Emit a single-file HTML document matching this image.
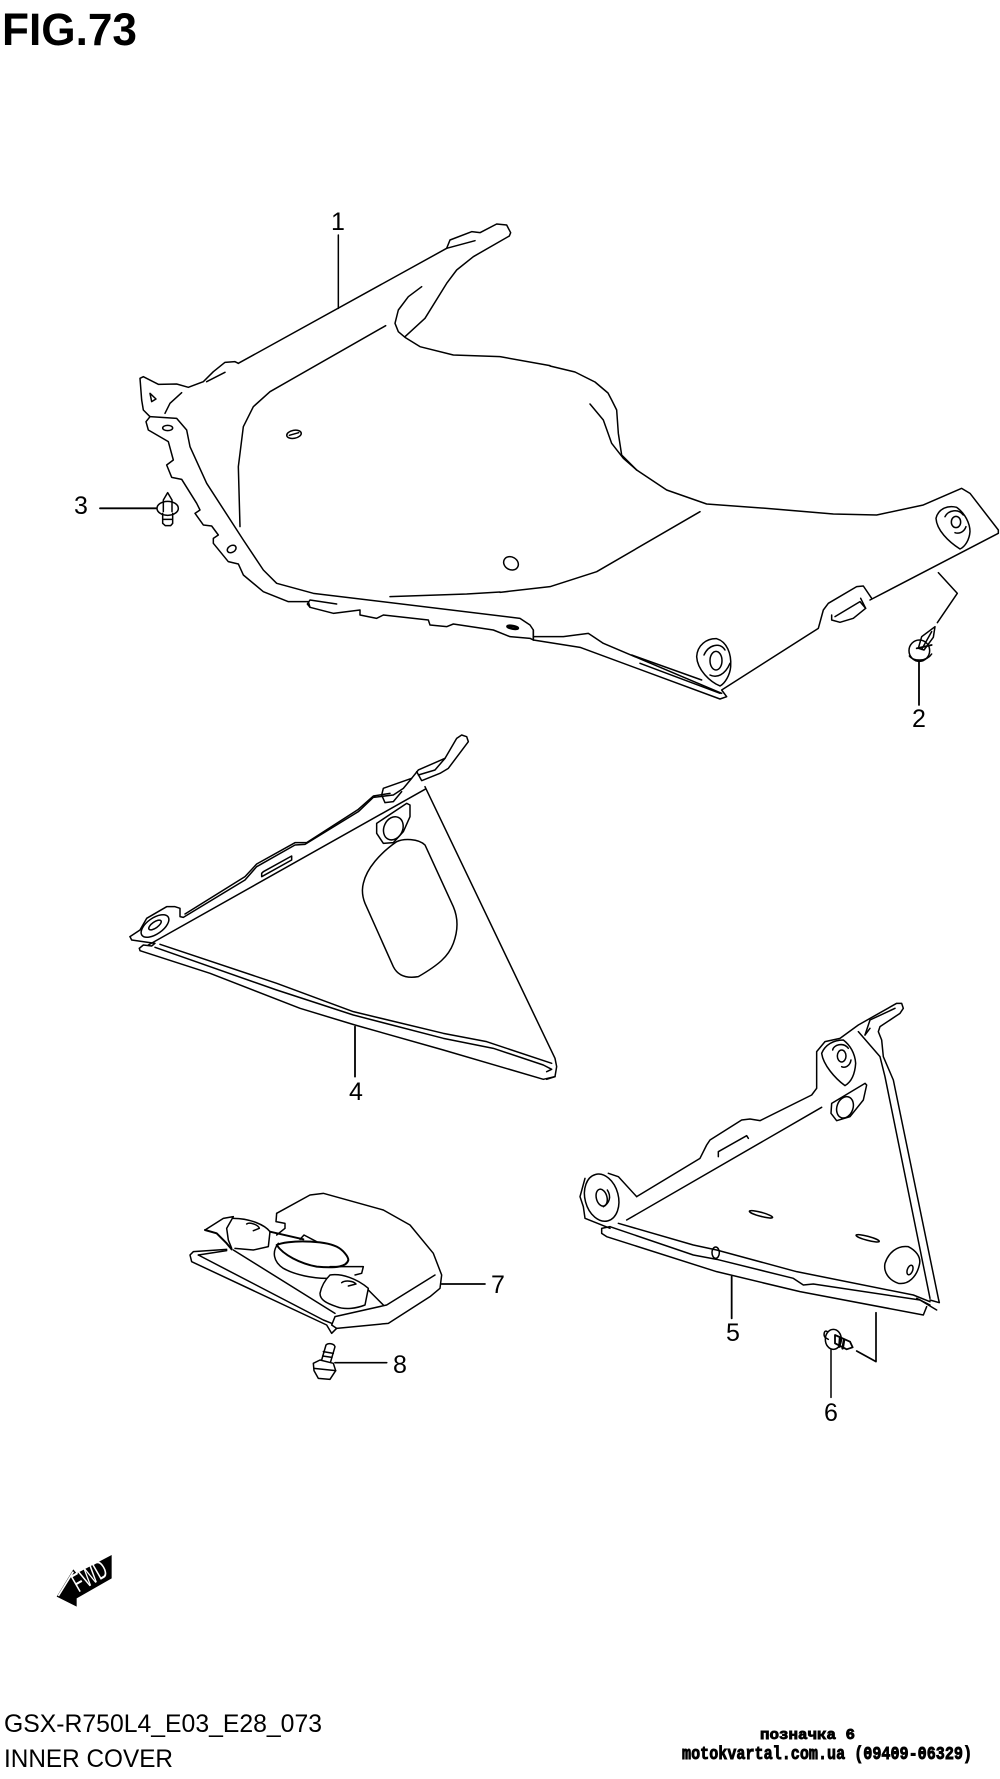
<!DOCTYPE html>
<html>
<head>
<meta charset="utf-8">
<title>FIG.73</title>
<style>
html,body{margin:0;padding:0;background:#fff}
svg{display:block}
.z{fill:none;stroke:#000;stroke-width:1.5;stroke-linejoin:round;stroke-linecap:round}
.z *{vector-effect:non-scaling-stroke}
.t{font-family:"Liberation Sans",sans-serif;font-size:25px;fill:#000;text-anchor:middle}
</style>
</head>
<body>
<svg width="1000" height="1779" viewBox="0 0 1000 1779" xmlns="http://www.w3.org/2000/svg">
<rect width="1000" height="1779" fill="#fff"/>

<text x="2" y="45" font-family="'Liberation Sans',sans-serif" font-weight="bold" font-size="45" textLength="135" lengthAdjust="spacingAndGlyphs">FIG.73</text>
<text x="4" y="1732" font-family="'Liberation Sans',sans-serif" font-size="25" textLength="318" lengthAdjust="spacingAndGlyphs">GSX-R750L4_E03_E28_073</text>
<text x="4" y="1767" font-family="'Liberation Sans',sans-serif" font-size="25" textLength="169" lengthAdjust="spacingAndGlyphs">INNER COVER</text>
<text x="760" y="1739" font-family="'Liberation Mono','DejaVu Sans Mono',monospace" font-weight="bold" font-size="15" stroke="#000" stroke-width=".9" textLength="95" lengthAdjust="spacingAndGlyphs">позначка 6</text>
<text x="682" y="1759" font-family="'Liberation Mono','DejaVu Sans Mono',monospace" font-weight="bold" font-size="18" stroke="#000" stroke-width=".9" textLength="290" lengthAdjust="spacingAndGlyphs">motokvartal.com.ua (09409-06329)</text>

<!-- Part 1 -->
<g class="z" transform="translate(100,200) scale(.33333)">
<polyline points="1040,145 1050,120 1115,95 1140,98 1190,72 1220,75 1232,98 1228,108 1120,170 1070,210 1040,250 975,355 915,410"/>
<polyline points="415,490 1040,145 1125,122"/>
<polyline points="965,260 925,290 895,330 885,370 895,395 915,412 960,440 1060,465 1200,470 1350,497"/>
<polyline points="415,490 405,485 375,487 340,515 310,545 265,562 230,552 175,553 130,530 120,535 125,600 130,630 150,650"/>
<polyline points="320,545 375,517"/>
<polyline points="195,640 210,610 245,578"/>
<polygon points="150,580 168,597 155,605"/>
<polyline points="150,650 138,665 145,690 205,725 220,780 200,795 215,832 245,838 290,910 300,930 285,940 310,975 335,978 355,1005 340,1015 340,1030 385,1085 415,1092 430,1125 490,1175 565,1205 625,1205 630,1222 700,1240 780,1230 780,1245 830,1255 850,1245 985,1260 990,1275 1040,1280 1060,1272 1180,1290 1230,1310 1290,1315 1300,1320"/>
<polyline points="150,650 230,655 260,690 270,740 320,850 430,1020 490,1110 530,1150 640,1180 1260,1255 1290,1275 1300,1290 1300,1320"/>
<polyline points="857,377 510,575 460,620 430,680 415,800 420,980"/>
<polyline points="870,1190 1100,1182 1200,1176"/>
<ellipse cx="582" cy="703" rx="22" ry="12" transform="rotate(-10 582 703)"/>
<line x1="568" y1="706" x2="596" y2="698"/>
<ellipse cx="203" cy="684" rx="15" ry="8"/>
<ellipse cx="1233" cy="1090" rx="23" ry="19" transform="rotate(30 1233 1090)"/>
<ellipse cx="395" cy="1047" rx="14" ry="10" transform="rotate(-30 395 1047)"/>
<ellipse cx="1238" cy="1282" rx="16" ry="4" stroke-width="2.5" transform="rotate(10 1238 1282)"/>
<polyline points="710,1212 630,1200 622,1212 630,1222"/>
<line x1="0" y1="925" x2="170" y2="925" stroke-width="1.8"/>
<line x1="715" y1="105" x2="715" y2="325"/>
<!-- clip 3 -->
<path d="M190 935V900L203 878L216 900V935"/>
<ellipse cx="203" cy="925" rx="32" ry="21"/>
<path d="M188 940V970L196 977H212L218 970V940"/>
<line x1="190" y1="958" x2="216" y2="958"/>
</g>

<g class="z" transform="translate(500,400) scale(.33333)">
<polyline points="150,-102 225,-84 285,-54 324,-21 335,0 350,30 355,100 365,165 410,210 500,270 620,312 800,325 1000,342 1130,345 1270,315 1385,265 1410,280 1495,390 1495,400 1110,600"/>
<polyline points="270,12 310,60 335,130 370,175 410,210"/>
<polyline points="1115,595 1090,558 1070,560 985,610 970,630 955,685 665,870 680,890 660,897 240,742 100,720 100,690"/>
<polyline points="100,710 190,710 265,700 310,730 665,880"/>
<polyline points="395,765 605,840"/>
<polyline points="420,790 660,880"/>
<polyline points="0,577 150,560 290,515 600,335"/>
<polyline points="1005,650 1080,605 1097,625 1060,655 1020,667 995,660 995,645"/>
<line x1="1082" y1="595" x2="1097" y2="625"/>
<path d="M590 770C592 735 620 715 650 716C680 725 695 760 692 800C690 825 675 850 660 858C630 845 592 810 590 770Z"/>
<ellipse cx="648" cy="782" rx="18" ry="28"/>
<path d="M612 765C625 735 660 725 675 750M690 790C675 825 650 835 630 825"/>
<path d="M1308 355C1315 325 1345 315 1370 322C1395 340 1410 370 1410 395C1408 420 1395 440 1380 447C1345 425 1310 390 1308 355Z"/>
<ellipse cx="1368" cy="366" rx="14" ry="17"/>
<path d="M1335 350C1345 330 1375 325 1390 345M1398 380C1392 398 1375 402 1365 398"/>
<!-- clip 2 -->
<ellipse cx="1258" cy="752" rx="31" ry="32"/>
<path d="M1228 768C1240 785 1280 785 1295 762"/>
<path d="M1255 745L1265 710L1305 680L1300 712L1272 750Z"/>
<line x1="1265" y1="748" x2="1295" y2="695"/>
<line x1="1250" y1="745" x2="1295" y2="735" stroke-width="1.8"/>
<polyline points="1315,518 1372,580 1312,668"/>
<line x1="1257" y1="785" x2="1257" y2="915" stroke-width="1.8"/>
</g>

<!-- Part 4 -->
<g class="z" transform="translate(110,710) scale(.33333)">
<polyline points="60,680 90,660 110,625 170,590 195,590 210,595 210,620 220,622 405,510 440,470 555,405 585,403 745,305 790,262 850,255 880,235 905,205 820,235 815,255 825,278 850,275 875,245"/>
<polyline points="225,612 405,500 440,462 555,398 590,398 745,298 790,258 840,250"/>
<polyline points="905,205 925,180 1005,145"/>
<polyline points="920,185 935,212 990,190 1015,175 1075,95 1070,80 1055,75 1040,85 1005,145 975,180 925,195"/>
<line x1="115" y1="705" x2="945" y2="238"/>
<polyline points="945,230 1335,1045 1340,1070 1335,1100 1310,1108"/>
<polyline points="88,715 90,722 300,790 570,895 735,945 1000,1020 1300,1108 1335,1100"/>
<polyline points="150,703 500,820 730,905 1000,970 1130,995 1325,1060"/>
<polyline points="135,712 500,840 730,915 1000,985 1150,1015 1300,1065 1325,1078 1310,1085"/>
<polyline points="60,680 65,690 135,700 125,708 100,705 88,715"/>
<ellipse cx="135" cy="648" rx="48" ry="24" transform="rotate(-35 135 648)"/>
<ellipse cx="135" cy="645" rx="22" ry="9" transform="rotate(-35 135 645)"/>
<polygon points="455,490 455,500 545,450 545,438 460,485"/>
<polygon points="800,340 890,280 900,285 900,320 880,365 850,398 820,400 800,370"/>
<ellipse cx="850" cy="355" rx="28" ry="36" transform="rotate(25 850 355)"/>
<path d="M760 520C770 475 810 430 860 395C880 385 925 385 945 405L1030 590C1045 625 1045 660 1030 700C1015 740 985 765 925 800C895 805 865 800 850 770L765 580C757 560 755 540 760 520Z"/>
<line x1="735" y1="950" x2="735" y2="1100" stroke-width="1.8"/>
</g>

<!-- Part 5 -->
<g class="z" transform="translate(550,970) scale(.33333)">
<polyline points="260,680 450,565 470,525 480,510 575,450 600,447 630,452 785,375 800,355 800,245 825,215 870,205 925,165 1040,100 1055,100 1060,115 1050,130 990,170 985,185 995,210 1000,260 1030,330 1165,985 1168,998 1140,990"/>
<polyline points="925,185 990,260 1005,320 1140,985"/>
<polyline points="945,195 960,150 1035,115"/>
<polyline points="960,175 945,195"/>
<path d="M815 250C825 225 850 210 880 210C900 225 915 250 917 280C915 310 905 335 885 347C855 325 820 285 815 250Z"/>
<ellipse cx="875" cy="258" rx="13" ry="18"/>
<path d="M848 240C850 225 880 215 895 235M903 270C900 288 885 295 875 290"/>
<polygon points="845,400 945,340 950,345 940,390 900,440 860,452 843,430"/>
<ellipse cx="885" cy="412" rx="24" ry="33" transform="rotate(20 885 412)"/>
<line x1="230" y1="750" x2="815" y2="412"/>
<polyline points="505,560 505,545 590,497 595,505"/>
<ellipse cx="155" cy="683" rx="50" ry="72" transform="rotate(-15 155 683)"/>
<ellipse cx="155" cy="683" rx="16" ry="26" transform="rotate(-15 155 683)"/>
<path d="M172 660C185 680 178 700 160 710"/>
<polyline points="105,625 90,680 100,710 105,745 180,775"/>
<polyline points="175,610 205,620 260,680"/>
<polyline points="180,770 155,775 155,790 170,800 500,905 750,965 1120,1035 1130,1010"/>
<polyline points="205,760 430,825 500,840 740,905 1090,975 1140,995"/>
<polyline points="180,770 430,855 500,868 730,925 760,945 790,942 1110,990 1160,1020"/>
<line x1="1100" y1="985" x2="1140" y2="1005"/>
<ellipse cx="633" cy="733" rx="36" ry="6" transform="rotate(15 633 733)"/>
<ellipse cx="953" cy="805" rx="36" ry="6" transform="rotate(15 953 805)"/>
<ellipse cx="497" cy="848" rx="11" ry="17"/>
<path d="M1005 880C1015 850 1040 825 1075 830C1095 840 1115 860 1108 885C1100 920 1075 945 1045 940C1015 930 1000 905 1005 880Z"/>
<ellipse cx="1080" cy="900" rx="8" ry="15" transform="rotate(20 1080 900)"/>
<line x1="545" y1="920" x2="545" y2="1045" stroke-width="1.8"/>
</g>

<!-- clip 6 -->
<g class="z" transform="translate(800,1290) scale(.33333)">
<ellipse cx="100" cy="148" rx="24" ry="30"/>
<path d="M82 125C72 118 70 135 75 142L85 148"/>
<path d="M105 135L150 155L158 172L140 178L105 160Z" stroke-width="1.8"/>
<line x1="120" y1="145" x2="118" y2="170" stroke-width="2.5"/>
<line x1="132" y1="150" x2="128" y2="175" stroke-width="2.5"/>
<polyline points="228,68 228,215 170,183" stroke-width="1.7"/>
<line x1="93" y1="180" x2="93" y2="322"/>
</g>

<!-- Part 7 -->
<g class="z" transform="translate(170,1160) scale(.33333)">
<polyline points="320,160 420,105 460,100 640,150 720,195 790,280 815,345 810,385 780,410 655,490 500,505 485,495 495,470 650,435 795,345"/>
<polyline points="320,160 318,185 345,190 345,205 320,225"/>
<polyline points="170,268 70,275 60,285 65,305 470,495 485,520 500,505"/>
<polyline points="85,285 460,480 485,490"/>
<line x1="85" y1="285" x2="170" y2="272"/>
<line x1="190" y1="270" x2="495" y2="460"/>
<polyline points="105,210 160,175 190,170 170,205 175,240 185,265"/>
<polyline points="105,210 140,220 170,250 185,268" stroke-width="2"/>
<path d="M190 175C240 175 285 195 300 215L295 260L250 270L195 265"/>
<path d="M230 192C240 185 265 195 268 205L250 212"/>
<line x1="300" y1="215" x2="400" y2="238" stroke-width="2"/>
<path d="M320 255C350 240 460 240 500 260C520 270 535 290 535 300C530 320 500 325 440 320C390 310 340 285 320 255Z" stroke-width="2"/>
<path d="M325 250C305 275 310 305 340 325C375 345 430 355 470 355"/>
<polyline points="390,238 402,225 440,245"/>
<polyline points="480,320 580,320 575,340 555,345"/>
<path d="M450 400C455 375 470 355 480 345C515 340 560 355 595 385L585 435C560 445 525 450 500 440C470 430 450 420 450 400Z"/>
<path d="M515 368C525 360 550 362 558 372L535 378"/>
<line x1="595" y1="390" x2="640" y2="435"/>
<line x1="815" y1="372" x2="945" y2="372" stroke-width="1.7"/>
<!-- bolt 8 -->
<path d="M455 600L468 555C475 548 492 550 495 560L482 605"/>
<line x1="460" y1="575" x2="490" y2="580"/>
<line x1="458" y1="588" x2="486" y2="592"/>
<path d="M430 610L450 600L490 610L497 632L480 658L445 655L432 632Z"/>
<line x1="432" y1="625" x2="497" y2="632"/>
<line x1="495" y1="608" x2="650" y2="608" stroke-width="1.7"/>
</g>

<!-- FWD arrow -->
<g transform="translate(40,1530) scale(.33333)">
<polygon points="50,200 100,118 110,130 215,75 215,145 110,205 110,230" fill="#000"/>
<line x1="55" y1="198" x2="100" y2="125" stroke="#fff" stroke-width="5"/>
<text x="0" y="0" transform="translate(115,188) rotate(-30) scale(1,1.6)" font-family="'Liberation Sans',sans-serif" font-size="50" fill="#fff" textLength="108" lengthAdjust="spacingAndGlyphs">FWD</text>
</g>

<!-- Labels -->
<text class="t" x="338" y="230">1</text>
<text class="t" x="919" y="727">2</text>
<text class="t" x="81" y="514">3</text>
<text class="t" x="356" y="1100">4</text>
<text class="t" x="733" y="1341">5</text>
<text class="t" x="831" y="1421">6</text>
<text class="t" x="498" y="1293">7</text>
<text class="t" x="400" y="1373">8</text>
</svg>
</body>
</html>
